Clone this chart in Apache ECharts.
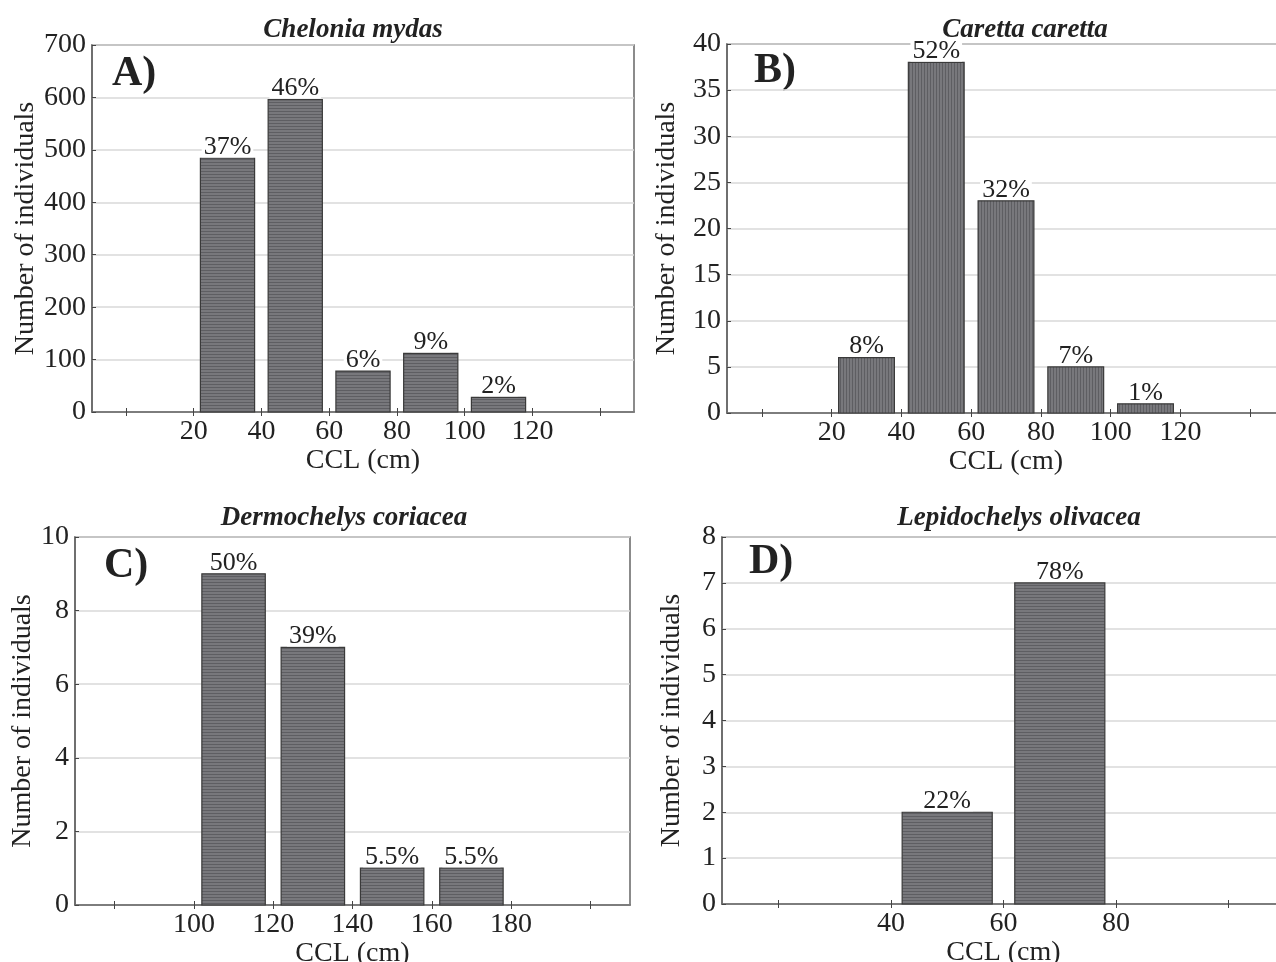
<!DOCTYPE html>
<html>
<head>
<meta charset="utf-8">
<script src="https://cdn.jsdelivr.net/npm/echarts@6/dist/echarts.min.js"></script>
<style>
html,body{margin:0;padding:0;background:#fff;}
#chart{width:1276px;height:962px;}
</style>
</head>
<body>
<div id="chart"></div>
<script>
// ---- data ----
const titles = ['Chelonia mydas', 'Caretta caretta', 'Dermochelys coriacea', 'Lepidochelys olivacea'];
const panelTags = ['A)', 'B)', 'C)', 'D)'];
const binWidth = 20;

const binsA = [20, 40, 60, 80, 100];
const countsA = [484, 596, 78, 112, 28];
const pctA = ['37%', '46%', '6%', '9%', '2%'];

const binsB = [20, 40, 60, 80, 100];
const countsB = [6, 38, 23, 5, 1];
const pctB = ['8%', '52%', '32%', '7%', '1%'];

const binsC = [100, 120, 140, 160];
const countsC = [9, 7, 1, 1];
const pctC = ['50%', '39%', '5.5%', '5.5%'];

const binsD = [40, 60];
const countsD = [2, 7];
const pctD = ['22%', '78%'];

const xTicksA = [0, 20, 40, 60, 80, 100, 120, 140];
const xLabelsA = [20, 40, 60, 80, 100, 120];
const xTicksB = [0, 20, 40, 60, 80, 100, 120, 140];
const xLabelsB = [20, 40, 60, 80, 100, 120];
const xTicksC = [80, 100, 120, 140, 160, 180, 200];
const xLabelsC = [100, 120, 140, 160, 180];
const xTicksD = [20, 40, 60, 80, 100];
const xLabelsD = [40, 60, 80];

const yMaxA = 700, yStepA = 100;
const yMaxB = 40, yStepB = 5;
const yMaxC = 10, yStepC = 2;
const yMaxD = 8, yStepD = 1;

// ---- styling / layout ----
const FONT = '"Liberation Serif", "Times New Roman", serif';
const frameColor = '#666';
const textColor = '#222';

function makePattern(vertical) {
  const c = document.createElement('canvas');
  c.width = vertical ? 3 : 4;
  c.height = vertical ? 4 : 3;
  const g = c.getContext('2d');
  g.fillStyle = '#78787c';
  g.fillRect(0, 0, c.width, c.height);
  g.fillStyle = '#5e5e62';
  if (vertical) g.fillRect(0, 0, 1, c.height); else g.fillRect(0, 0, c.width, 1);
  return { type: 'pattern', image: c, repeat: 'repeat' };
}
const patH = makePattern(false);
const patV = makePattern(true);

const panels = [
  { bins: binsA, counts: countsA, pct: pctA, xTicks: xTicksA, xLabels: xLabelsA, xmin: -10, xmax: 150, ymax: yMaxA, ystep: yStepA,
    grid: { left: 92, top: 45, width: 542, height: 367 }, nameGap: 52, pat: patH,
    titleX: 348, titleY: 27, tagX: 112, tagY: 76 },
  { bins: binsB, counts: countsB, pct: pctB, xTicks: xTicksB, xLabels: xLabelsB, xmin: -10, xmax: 150, ymax: yMaxB, ystep: yStepB,
    grid: { left: 727, top: 44, width: 558, height: 369 }, nameGap: 46, pat: patV,
    titleX: 1020, titleY: 27, tagX: 754, tagY: 73 },
  { bins: binsC, counts: countsC, pct: pctC, xTicks: xTicksC, xLabels: xLabelsC, xmin: 70, xmax: 210, ymax: yMaxC, ystep: yStepC,
    grid: { left: 75, top: 537, width: 555, height: 368 }, nameGap: 37, pat: patH,
    titleX: 339, titleY: 515, tagX: 104, tagY: 568 },
  { bins: binsD, counts: countsD, pct: pctD, xTicks: xTicksD, xLabels: xLabelsD, xmin: 10, xmax: 110, ymax: yMaxD, ystep: yStepD,
    grid: { left: 722, top: 537, width: 563, height: 367 }, nameGap: 36, pat: patH,
    titleX: 1014, titleY: 515, tagX: 749, tagY: 564 }
];

const option = {
  backgroundColor: '#fff',
  animation: false,
  title: [], grid: [], xAxis: [], yAxis: [], series: [], graphic: []
};

panels.forEach((p, i) => {
  option.grid.push(Object.assign({ show: true, borderColor: frameColor, borderWidth: 1.5, containLabel: false, outerBoundsMode: 'none' }, p.grid));
  option.title.push({
    text: titles[i], left: p.titleX, top: p.titleY - 15, textAlign: 'center',
    textStyle: { fontFamily: FONT, fontStyle: 'italic', fontWeight: 'bold', fontSize: 27, color: textColor }
  });
  option.graphic.push({
    type: 'text', left: p.tagX, top: p.tagY - 23,
    style: { text: panelTags[i], font: 'bold 42px ' + FONT, fill: textColor }
  });
  // bottom x axis
  option.xAxis.push({
    type: 'value', gridIndex: i, position: 'bottom', min: p.xmin, max: p.xmax,
    name: 'CCL (cm)', nameLocation: 'middle', nameGap: 34,
    nameTextStyle: { fontFamily: FONT, fontSize: 28, color: textColor },
    axisLine: { show: true, onZero: false, lineStyle: { color: frameColor, width: 1.5 } },
    axisTick: { show: true, inside: true, length: 4, customValues: p.xTicks, lineStyle: { color: '#444' } },
    axisLabel: { show: true, customValues: p.xLabels, fontFamily: FONT, fontSize: 28, color: textColor, margin: 6 },
    splitLine: { show: false }
  });
  // top x axis (ticks only)
  option.xAxis.push({
    type: 'value', gridIndex: i, position: 'top', min: p.xmin, max: p.xmax,
    axisLine: { show: false },
    axisTick: { show: true, inside: true, length: 4, customValues: p.xTicks, lineStyle: { color: '#444' } },
    axisLabel: { show: false },
    splitLine: { show: false }
  });
  option.yAxis.push({
    type: 'value', gridIndex: i, min: 0, max: p.ymax, interval: p.ystep,
    name: 'Number of individuals', nameLocation: 'middle', nameGap: p.nameGap,
    nameTextStyle: { fontFamily: FONT, fontSize: 28, color: textColor },
    axisLine: { show: true, onZero: false, lineStyle: { color: frameColor, width: 1.5 } },
    axisTick: { show: true, inside: true, length: 4, lineStyle: { color: '#444' } },
    axisLabel: { fontFamily: FONT, fontSize: 28, color: textColor, margin: 6 },
    splitLine: { show: true, lineStyle: { color: '#d9d9d9', width: 1.5 } }
  });
  const data = p.bins.map((b, k) => [b, p.counts[k], k]);
  const pct = p.pct;
  const pat = p.pat;
  option.series.push({
    type: 'custom', xAxisIndex: i * 2, yAxisIndex: i, clip: false,
    encode: { x: 0, y: 1 },
    data: data,
    renderItem: function (params, api) {
      const x0 = api.value(0);
      const c = api.value(1);
      const inset = binWidth * 0.1;
      const a = api.coord([x0 + inset, c]);
      const b = api.coord([x0 + binWidth - inset, 0]);
      return {
        type: 'group',
        children: [
          { type: 'rect', shape: { x: a[0], y: a[1], width: b[0] - a[0], height: b[1] - a[1] },
            style: { fill: pat, stroke: '#3a3a3a', lineWidth: 1.2 } },
          { type: 'text', x: (a[0] + b[0]) / 2, y: a[1] - 1,
            style: { text: pct[params.dataIndex], align: 'center', verticalAlign: 'bottom',
                     font: '26px ' + FONT, fill: textColor, backgroundColor: '#fff', padding: [0, 2, -3, 2] } }
        ]
      };
    }
  });
});

const chart = echarts.init(document.getElementById('chart'));
chart.setOption(option);
</script>
</body>
</html>
